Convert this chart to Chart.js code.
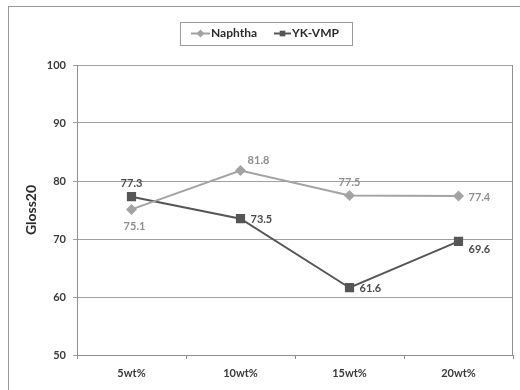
<!DOCTYPE html>
<html>
<head>
<meta charset="utf-8">
<script src="https://cdn.jsdelivr.net/npm/chart.js@4/dist/chart.umd.min.js"></script>
<style>
  html, body { margin: 0; padding: 0; background: #ffffff; }
  #wrap { width: 520px; height: 390px; }
</style>
</head>
<body>
<div id="wrap"><canvas id="c" width="520" height="390"></canvas></div>
<script>
// Gloss (20°) by additive loading
const categories = ['5wt%', '10wt%', '15wt%', '20wt%'];
const naphtha = [75.1, 81.8, 77.5, 77.4];
const ykVmp = [77.3, 73.5, 61.6, 69.6];
const yTicks = [50, 60, 70, 80, 90, 100];

// where each value label sits relative to its point
const naphthaLabelPos = ['below', 'aboveRight', 'above', 'right'];
const ykVmpLabelPos = ['above', 'right', 'right', 'rightBelow'];

const FONT = 'Lato, "Liberation Sans", Arial, sans-serif';
const NAPH_COLOR = '#a3a3a3';
const YK_COLOR = '#565656';
const GRID = '#a0a0a0';

const offsets = {
  below: [3, 17, 'center'],
  above: [0, -13, 'center'],
  aboveRight: [18, -10, 'center'],
  right: [10, 1, 'left'],
  rightBelow: [10, 8, 'left']
};

const frame = {
  id: 'frame',
  beforeDraw(chart) {
    const ctx = chart.ctx;
    ctx.save();
    ctx.strokeStyle = '#9a9a9a';
    ctx.lineWidth = 1;
    ctx.strokeRect(8.5, 6.5, chart.width + 20, chart.height + 20);
    ctx.restore();
  },
  afterDatasetsDraw(chart) {
    const ctx = chart.ctx;
    const a = chart.chartArea;
    ctx.save();
    ctx.strokeStyle = '#8e8e8e';
    ctx.lineWidth = 1;
    ctx.beginPath();
    ctx.moveTo(Math.round(a.right) - 0.5, a.top);
    ctx.lineTo(Math.round(a.right) - 0.5, a.bottom);
    ctx.stroke();

    // value labels
    ctx.font = 'bold 11px ' + FONT;
    ctx.textBaseline = 'middle';
    chart.data.datasets.forEach((ds, i) => {
      const meta = chart.getDatasetMeta(i);
      meta.data.forEach((pt, j) => {
        const o = offsets[ds.labelPos[j]];
        ctx.fillStyle = ds.labelColor;
        ctx.textAlign = o[2];
        ctx.fillText(ds.data[j].toFixed(1), pt.x + o[0], pt.y + o[1]);
      });
    });

    // legend box
    const lx = 180.5, ly = 22.5, lw = 172, lh = 23;
    ctx.strokeStyle = '#9a9a9a';
    ctx.strokeRect(lx, ly, lw, lh);
    const items = [
      { ds: chart.data.datasets[0], x0: 191, x1: 210, tx: 211 },
      { ds: chart.data.datasets[1], x0: 274, x1: 291, tx: 292 }
    ];
    const cy = 33.5;
    items.forEach(it => {
      ctx.strokeStyle = it.ds.borderColor;
      ctx.lineWidth = 2;
      ctx.beginPath();
      ctx.moveTo(it.x0, cy);
      ctx.lineTo(it.x1, cy);
      ctx.stroke();
      ctx.fillStyle = it.ds.backgroundColor;
      Chart.helpers.drawPoint(ctx, {
        pointStyle: it.ds.pointStyle,
        radius: 4,
        borderWidth: 0,
        rotation: 0
      }, (it.x0 + it.x1) / 2, cy);
      ctx.fillStyle = '#2b2b2b';
      ctx.textAlign = 'left';
      ctx.font = 'bold 12px ' + FONT;
      ctx.fillText(it.ds.label, it.tx, cy);
    });
    ctx.restore();
  }
};

new Chart(document.getElementById('c'), {
  type: 'line',
  data: {
    labels: categories,
    datasets: [
      {
        label: 'Naphtha',
        data: naphtha,
        borderColor: NAPH_COLOR,
        backgroundColor: NAPH_COLOR,
        borderWidth: 2,
        pointStyle: 'rectRot',
        pointRadius: 5.5,
        pointBorderWidth: 0,
        tension: 0,
        labelColor: '#8f8f8f',
        labelPos: naphthaLabelPos
      },
      {
        label: 'YK-VMP',
        data: ykVmp,
        borderColor: YK_COLOR,
        backgroundColor: YK_COLOR,
        borderWidth: 2,
        pointStyle: 'rect',
        pointRadius: 6.5,
        pointBorderWidth: 0,
        tension: 0,
        labelColor: '#4a4a4a',
        labelPos: ykVmpLabelPos
      }
    ]
  },
  options: {
    responsive: false,
    animation: false,
    devicePixelRatio: 1,
    layout: { padding: { left: 0, right: 7, top: 65, bottom: 0 } },
    plugins: {
      legend: { display: false },
      tooltip: { enabled: false }
    },
    scales: {
      x: {
        offset: true,
        grid: {
          display: true,
          drawOnChartArea: false,
          offset: true,
          tickLength: 4,
          color: '#8e8e8e'
        },
        border: { display: true, color: '#8e8e8e', width: 1 },
        ticks: {
          padding: 8,
          color: '#3a3a3a',
          font: { family: FONT, size: 11, weight: 'bold' },
          maxRotation: 0
        },
        afterFit(scale) { scale.height = 35; }
      },
      y: {
        min: 50,
        max: 100,
        afterBuildTicks(scale) { scale.ticks = yTicks.map(v => ({ value: v })); },
        grid: { color: GRID, tickLength: 4, lineWidth: 1 },
        border: { display: true, color: '#8e8e8e', width: 1 },
        ticks: {
          padding: 7,
          color: '#3a3a3a',
          font: { family: FONT, size: 11, weight: 'bold' }
        },
        title: {
          display: true,
          text: 'Gloss20',
          color: '#2b2b2b',
          font: { family: FONT, size: 14, weight: 'bold' },
          padding: { top: 23, bottom: 0 }
        },
        afterFit(scale) { scale.width = 77; }
      }
    }
  },
  plugins: [frame]
});
</script>
</body>
</html>
